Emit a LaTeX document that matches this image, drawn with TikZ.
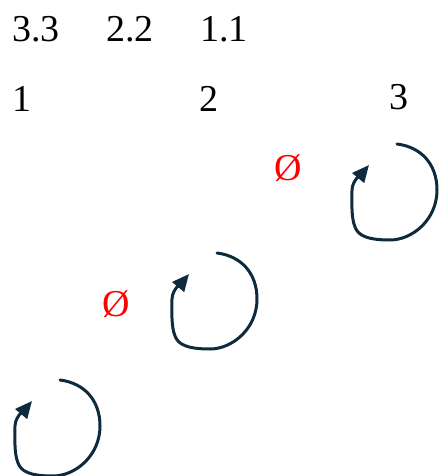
\documentclass[tikz,border=0pt]{standalone}
\usepackage{fontspec}
\setmainfont{Liberation Serif}
\usetikzlibrary{arrows.meta}
\definecolor{loopc}{HTML}{0E2B3D}
\definecolor{emptyred}{HTML}{FF0000}
\tikzset{
  lbl/.style={anchor=base west,inner sep=0pt,font=\fontsize{38}{40}\selectfont},
  emp/.style={lbl,text=emptyred},
  selfloop/.style={draw=loopc,line width=3pt,line cap=round,line join=round,
     -{Triangle[length=17pt,width=15pt]}}
}
\newcommand{\myloop}[1]{%
  \draw[selfloop] (#1) .. controls ++(24,3) and ++(0,-26) .. ++(40,46)
     .. controls ++(0,30) and ++(22,0) .. ++(-47,50)
     .. controls ++(-24,0) and ++(3,8) .. ++(-35,-13)
     .. controls ++(-4,-10) and ++(0,12) .. ++(-3,-37)
     .. controls ++(0,-10) and ++(-5,6) .. ++(17,-25);}
\begin{document}
\begin{tikzpicture}[x=1pt,y=-1pt]
\useasboundingbox (0,0) rectangle (440,476);
\node[lbl] (t33) at (12,42) {3.3};
\node[lbl] (t22) at (106,42) {2.2};
\node[lbl] (t11) at (200,42) {1.1};
\node[lbl] (s1) at (12,112) {1};
\node[lbl] (s2) at (199,112) {2};
\node[lbl] (s3) at (389,110) {3};
\node[emp] (e1) at (274,180) {Ø};
\node[emp] (e2) at (102,316) {Ø};
\coordinate (l1) at (397,144);
\coordinate (l2) at (217,253);
\coordinate (l3) at (60,380);
\myloop{l1}
\myloop{l2}
\myloop{l3}
\end{tikzpicture}
\end{document}
